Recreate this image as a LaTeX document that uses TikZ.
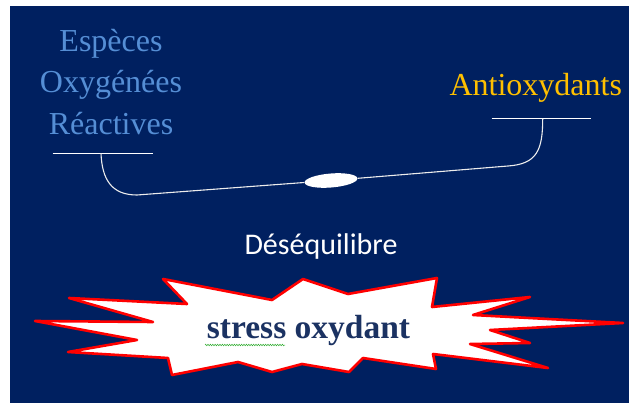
\documentclass[tikz,border=0pt]{standalone}
\usepackage{fontspec}
\setmainfont{Liberation Serif}
\newfontfamily\calibri{Carlito}
\usetikzlibrary{shapes.geometric, decorations.pathmorphing}
\definecolor{navy}{HTML}{002060}
\definecolor{rosblue}{HTML}{558ED5}
\definecolor{antigold}{HTML}{FFC000}
\definecolor{stressblue}{HTML}{1B3262}
\newcommand{\fs}[2]{\fontsize{#1}{#2}\selectfont}

\begin{document}
\begin{tikzpicture}[x=1pt, y=-1pt,
  bar/.style={draw=white, line width=1.2pt},
  beam/.style={draw=white!85!gray, line width=1.1pt},
  burst/.style={draw=red, fill=white, line width=2.6pt, line join=round}]
  \useasboundingbox (0,0) rectangle (629,403);
  \fill[navy] (10,6) rectangle (628.5,403);
  % the two sides of the balance
  \node[anchor=base, align=center, text=rosblue, font=\fs{32}{41.3}, inner sep=0pt]
    (ros) at (111,134.3) {Espèces\\Oxygénées\\Réactives};
  \node[anchor=base, text=antigold, font=\fs{32}{38}, inner sep=0pt]
    (anti) at (535.8,96) {Antioxydants};
  \coordinate (ros-l) at (52.7,153.3);
  \coordinate (ros-r) at (153.3,153.3);
  \coordinate (ros-m) at (101,153.3);
  \coordinate (ros-b) at (137,195);
  \coordinate (anti-l) at (491.7,118.7);
  \coordinate (anti-r) at (591,118.7);
  \coordinate (anti-m) at (542.7,118.7);
  \coordinate (anti-b) at (508,166);
  \draw[bar] (ros-l) -- (ros-r);
  \draw[bar] (anti-l) -- (anti-r);
  \node[ellipse, fill=white, minimum width=53pt, minimum height=14pt, inner sep=0pt,
    rotate=4.6] (eq) at (331,180.5) {};
  \draw[beam] (ros-m) .. controls (102,180) and (112,195) .. (ros-b) -- (eq);
  \draw[beam] (eq) -- (anti-b) .. controls (537,164) and (542.7,150) .. (anti-m);
  % the imbalance
  \node[anchor=base, text=white, font=\calibri\fs{30}{36}, inner sep=0pt]
    (deseq) at (321,254.3) {Déséquilibre};
  \draw[burst] (35,321) -- (153,322) -- (69,298) -- (187,304) -- (163,279)
    -- (272,300) -- (303,279) -- (348,294) -- (437,278) -- (432,307)
    -- (530,297) -- (473,315) -- (623,323) -- (490,330) -- (530,343)
    -- (470,344) -- (548,368) -- (433,354) -- (436,369) -- (363,358)
    -- (349,372) -- (302,364) -- (272,372) -- (238,362) -- (172,375)
    -- (168,358) -- (68,352) -- (137,340) -- cycle;
  \node[anchor=base, text=stressblue, font=\bfseries\fs{33.5}{40}, inner sep=0pt]
    (stress) at (308.5,338) {stress oxydant};
  \draw[green!60!black!80, line width=0.5pt,
    decorate, decoration={zigzag, amplitude=0.8pt, segment length=2.4pt}]
    (205,345) -- (285,345);
\end{tikzpicture}
\end{document}
